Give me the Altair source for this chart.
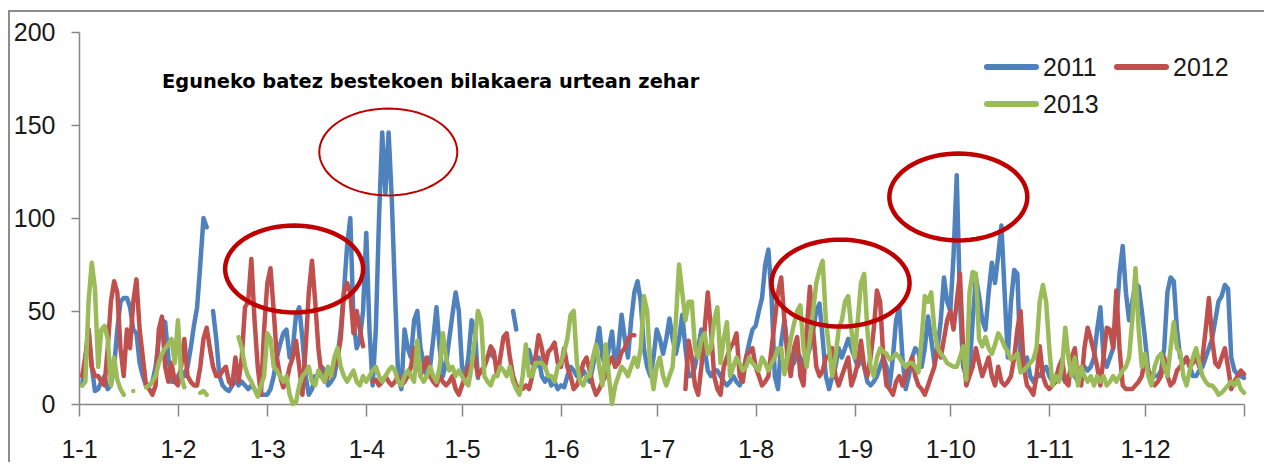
import altair as alt
import numpy as np
import pandas as pd

TITLE = "Eguneko batez bestekoen bilakaera urtean zehar"
SERIES = ["2011", "2012", "2013"]
COLORS = ["#4F81BD", "#C0504D", "#9BBB59"]
MONTH_LABELS = ["1-1", "1-2", "1-3", "1-4", "1-5", "1-6", "1-7", "1-8", "1-9", "1-10", "1-11", "1-12"]
MONTH_START_DAYS = [0, 31, 59, 90, 120, 151, 181, 212, 243, 273, 304, 334]
YEAR_END_DAY = 365
Y_TICKS = [0, 50, 100, 150, 200]

N = None
v2011 = [
    10, 25, 40, 20, 7, 8, 12, 15, 8, 10,
    20, 40, 55, 57, 57, 52, 40, 38, 22, 15,
    10, 10, 12, 20, 35, 45, 44, 25, 12, 12,
    15, 18, 15, 20, 30, 42, 52, 75, 100, 95,
    N, 50, 35, 15, 10, 8, 7, 10, 13, 10,
    12, 10, 8, 10, 8, 5, 5, 5, 5, 8,
    15, 25, 32, 38, 40, 25, 30, 48, 52, 35,
    15, 5, 8, 15, 15, 20, 18, 10, 12, 15,
    25, 40, 60, 85, 100, 45, 30, 35, 50, 92,
    40, 10, 40, 100, 146, 113, 146, 110, 60, 15,
    8, 40, 30, 25, 45, 50, 30, 22, 15, 20,
    35, 52, 30, 15, 22, 35, 48, 60, 50, 20,
    15, 25, 45, 40, 14, N, N, N, 27, 25,
    N, N, N, N, N, 50, 40, N, N, N,
    29, 22, 20, 25, 15, 12, 15, 10, 12, 8,
    10, 9, 15, 20, 18, 15, 14, 18, 15, 12,
    20, 30, 41, 25, 20, 30, 39, 20, 30, 48,
    35, 25, 45, 60, 66, 55, 30, 20, 15, 25,
    40, 35, 27, 35, 46, 35, 27, 35, 48, 30,
    15, 15, 20, 30, 40, 30, 18, 15, 18, 18,
    15, 12, 10, 12, 15, 12, 10, 15, 25, 33,
    40, 42, 50, 57, 75, 83, 57, 15, 8, 33,
    45, 30, 20, 22, 28, 25, 20, 25, 30, 40,
    50, 54, 35, 15, 8, 15, 20, 30, 25, 30,
    35, 30, 25, 20, 25, 20, 12, 10, 12, 15,
    20, 25, 20, 10, 25, 45, 52, 25, 8, 15,
    25, 30, 28, 20, 30, 47, 35, 22, 30, 45,
    68, 55, 50, 80, 123, 55, 20, 15, 18, 45,
    68, 58, 45, 40, 60, 76, 65, 80, 96, 60,
    25, 55, 72, 70, 20, 20, 25, 15, 12, 15,
    15, 18, 20, 15, 12, 15, 18, 15, 12, 15,
    18, 15, 12, 15, 20, 18, 20, 25, 40, 52,
    25, 20, 25, 30, 45, 70, 85, 60, 45, 55,
    65, 63, 50, 35, 18, 15, 15, 15, 18, 30,
    60, 68, 66, 40, 25, 22, 25, 20, 15, 15,
    18, 20, 25, 30, 35, 45, 55, 58, 64, 62,
    25, 18, 16, 15, 14,
]
v2012 = [
    15, 25, 40, 20, 15, 15, 12, 10, 30, 55,
    66, 60, 30, 15, 40, 30, 55, 67, 40, 25,
    10, 8, 5, 10, 40, 47, 20, 12, 22, 12,
    10, 20, 35, 15, 12, 10, 10, 20, 35, 41,
    30, 20, 15, 15, 18, 20, 12, 10, 25, 12,
    25, 52, 55, 78, 45, 20, 5, 40, 65, 73,
    50, 25, 15, 9, 12, 20, 25, 34, 20, 5,
    30, 60, 77, 55, 30, 15, 12, 15, 15, 20,
    25, 35, 60, 65, 60, 38, 50, 40, 31, N,
    N, 12, 13, 10, 12, 15, 12, 10, 12, 15,
    10, 12, 15, 20, 30, 25, 15, 20, 25, 15,
    12, 10, 15, 12, 10, 12, 15, 8, 5, 10,
    15, 20, 22, 25, 15, 18, 20, 25, 31, 28,
    15, 25, 36, 38, 25, 15, 10, 8, 8, 10,
    8, 15, 25, 37, 30, 20, 28, 30, 33, 22,
    20, 30, 20, 15, 8, 10, 15, 22, 25, 18,
    10, 5, 8, 12, 15, 22, 25, 20, 22, 28,
    30, 35, 37, 37, N, N, N, N, N, N,
    N, N, N, N, N, N, N, N, N, 8,
    34, 25, 10, 5, 20, 40, 60, 40, 15, 8,
    5, 20, 25, 30, 33, 38, 15, 12, 25, 28,
    30, 20, 15, 10, 12, 15, 30, 45, 60, 68,
    45, 25, 15, 30, 36, 15, 10, 40, 63, 40,
    20, 15, 18, 25, 26, 30, 15, 10, 15, 20,
    25, 10, 15, 22, 34, 20, 15, 25, 40, 61,
    55, 25, 10, 8, 5, 12, 15, 10, 15, 20,
    25, 15, 10, 8, 5, 10, 15, 20, 31, 25,
    35, 45, 50, 40, 55, 70, 30, 10, 15, 20,
    30, 22, 15, 20, 25, 15, 10, 20, 12, 10,
    12, 15, 25, 40, 50, 20, 10, 8, 5, 15,
    31, 15, 10, 8, 10, 12, 20, 24, 12, 10,
    25, 30, 12, 10, 30, 41, 35, 28, 20, 10,
    25, 41, 40, 30, 61, 30, 10, 8, 8, 8,
    10, 12, 15, 25, 18, 12, 10, 12, 15, 25,
    15, 10, 12, 18, 20, 22, 25, 20, 22, 25,
    20, 25, 40, 57, 35, 22, 20, 25, 30, 20,
    8, 12, 15, 18, 16,
]
v2013 = [
    10, 12, 55, 76, 62, 20, 40, 42, 35, 10,
    25, 13, 8, 5, N, N, 7, N, N, N,
    9, 10, 12, 15, 22, 27, 30, 32, 35, 22,
    45, 15, 9, N, N, N, N, 6, 7, 5,
    N, N, N, N, N, N, N, N, N, 36,
    30, 20, 15, 12, 8, 4, 10, 15, 38, 35,
    20, 18, 15, 12, 15, 5, 0, 1, 10, 15,
    17, 20, 12, 10, 18, 15, 12, 20, 15, 25,
    30, 20, 15, 12, 15, 18, 12, 10, 15, 12,
    15, 18, 20, 15, 12, 15, 18, 20, 18, 12,
    10, 15, 18, 15, 12, 34, 15, 12, 15, 20,
    15, 12, 20, 38, 25, 18, 20, 15, 18, 15,
    12, 10, 20, 35, 50, 45, 15, 12, 10, 15,
    15, 20, 18, 15, 20, 12, 8, 5, 15, 32,
    15, 15, 22, 22, 22, 20, 15, 15, 12, 20,
    22, 28, 35, 48, 50, 22, 12, 10, 15, 15,
    25, 32, 20, 10, 32, 15, 0, 10, 15, 20,
    18, 15, 20, 25, 20, 30, 58, 50, 20, 8,
    20, 25, 15, 10, 15, 20, 45, 75, 60, 45,
    55, 55, 30, 25, 35, 38, 27, 30, 45, 52,
    22, 35, 44, 15, 20, 25, 22, 18, 20, 25,
    22, 20, 18, 25, 22, 18, 22, 25, 30, 30,
    16, 25, 35, 43, 50, 53, 30, 20, 35, 50,
    65, 72, 77, 45, 30, 15, 25, 40, 45, 55,
    58, 40, 25, 45, 65, 70, 40, 20, 15, 25,
    30, 28, 27, 24, 25, 27, 25, 22, 20, 22,
    22, 20, 17, 35, 58, 55, 60, 40, 30, 27,
    25, 22, 21, 20, 20, 25, 31, 13, 60, 71,
    70, 35, 31, 36, 30, 27, 32, 38, 35, 31,
    28, 24, 25, 27, 17, 18, 20, 22, 24, 30,
    55, 64, 55, 30, 10, 15, 12, 20, 41, 25,
    15, 25, 10, 20, 15, 12, 15, 10, 15, 12,
    15, 10, 12, 15, 12, 15, 18, 20, 25, 45,
    73, 40, 20, 27, 15, 10, 20, 25, 27, 20,
    15, 30, 44, 30, 28, 15, 10, 18, 25, 30,
    22, 15, 12, 10, 10, 8, 5, 6, 8, 10,
    12, 10, 13, 8, 6,
]

# highlighted regions (center day, center value, outline weight)
ELLIPSE_DAY = [67.4, 96.9, 238.6, 275.5]
ELLIPSE_VALUE = [72.6, 135.5, 65.0, 111.3]
ELLIPSE_WEIGHT = [4.5, 2.0, 4.5, 4.5]

rows = []
for name, vals in zip(SERIES, [v2011, v2012, v2013]):
    for d, v in enumerate(vals):
        rows.append({"day": d + 1, "value": v, "year": name})
df = pd.DataFrame(rows)

ell = pd.DataFrame({"day": ELLIPSE_DAY, "value": ELLIPSE_VALUE, "w": ELLIPSE_WEIGHT})

# ellipse outline as symbol path (unit width 2, aspect 0.63)
t = np.linspace(0, 2 * np.pi, 73)[:-1]
pts = [f"{np.cos(a):.4f},{0.63 * np.sin(a):.4f}" for a in t]
ELLIPSE_PATH = "M" + " L".join(pts) + " Z"

label_expr = " : ".join(
    [f"datum.value == {d} ? '{l}'" for d, l in zip(MONTH_START_DAYS, MONTH_LABELS)]
) + " : ''"

AXIS_FONT = "Liberation Sans, Arial, sans-serif"
GRAY = "#868686"
color_scale = alt.Scale(domain=SERIES, range=COLORS)

x_enc = alt.X(
    "day:Q",
    scale=alt.Scale(domain=[0, YEAR_END_DAY], nice=False, zero=False),
    axis=alt.Axis(
        values=MONTH_START_DAYS + [YEAR_END_DAY], labelExpr=label_expr, title=None,
        grid=False, domainColor=GRAY, tickColor=GRAY, domainWidth=1.5, tickWidth=1.5,
        tickSize=12, labelFont=AXIS_FONT, labelFontSize=25, labelColor="#1a1a1a",
        labelPadding=21, labelFlush=False, labelOverlap=False,
    ),
)
y_enc = alt.Y(
    "value:Q",
    scale=alt.Scale(domain=[0, 200], nice=False),
    axis=alt.Axis(
        values=Y_TICKS, title=None, grid=False, domainColor=GRAY, tickColor=GRAY,
        domainWidth=1.5, tickWidth=1.5, tickSize=8, labelFont=AXIS_FONT,
        labelFontSize=25, labelColor="#1a1a1a", labelPadding=16,
    ),
)

lines = alt.Chart(df).mark_line(
    strokeWidth=4.5, strokeCap="round", strokeJoin="round", invalid="break-paths-show-domains"
).encode(
    x=x_enc,
    y=y_enc,
    color=alt.Color("year:N", scale=color_scale, legend=None),
)

# legend laid out in two columns (2011, 2012 / 2013), pixel layout in plot coordinates
LEG_X0, LEG_COL_STEP, LEG_Y0, LEG_ROW_STEP, LEG_LINE_LEN = 908, 130, 35, 37, 49
leg = pd.DataFrame({
    "year": SERIES,
    "lx": [LEG_X0 + (i % 2) * LEG_COL_STEP for i in range(len(SERIES))],
    "ly": [LEG_Y0 + (i // 2) * LEG_ROW_STEP for i in range(len(SERIES))],
})
leg["lx2"] = leg["lx"] + LEG_LINE_LEN
leg["tx"] = leg["lx2"] + 7

legend_lines = alt.Chart(leg).mark_rule(strokeWidth=6, strokeCap="round").encode(
    x=alt.X("lx:Q", scale=None), x2="lx2:Q", y=alt.Y("ly:Q", scale=None),
    color=alt.Color("year:N", scale=color_scale, legend=None),
)
legend_text = alt.Chart(leg).mark_text(
    align="left", baseline="middle", font=AXIS_FONT, fontSize=25, color="#1a1a1a", dy=1
).encode(x=alt.X("tx:Q", scale=None), y=alt.Y("ly:Q", scale=None), text="year:N")

ellipses = alt.Chart(ell).mark_point(
    shape=ELLIPSE_PATH, size=19044, filled=False, color="#C00000", opacity=1
).encode(
    x="day:Q", y="value:Q", strokeWidth=alt.StrokeWidth("w:Q", scale=None)
)

title = alt.Chart(pd.DataFrame({"t": [TITLE]})).mark_text(
    align="left", baseline="middle", font="DejaVu Sans", fontWeight="bold", fontSize=19.4, color="#000000"
).encode(x=alt.value(83), y=alt.value(50), text="t:N")

frame = alt.Chart(pd.DataFrame({"k": [0]})).mark_rect(
    fill="transparent", stroke="#8c8c8c", strokeWidth=2
).encode(x=alt.value(-70), x2=alt.value(1400), y=alt.value(-21), y2=alt.value(700))

chart = alt.layer(frame, lines, ellipses, title, legend_lines, legend_text).properties(
    width=1165, height=372,
    autosize=alt.AutoSizeParams(type="none"),
    padding={"left": 71, "top": 24, "right": 20, "bottom": 58},
).configure_view(strokeWidth=0)

chart.save("out.html", embed_options={"renderer": "svg", "actions": False})
